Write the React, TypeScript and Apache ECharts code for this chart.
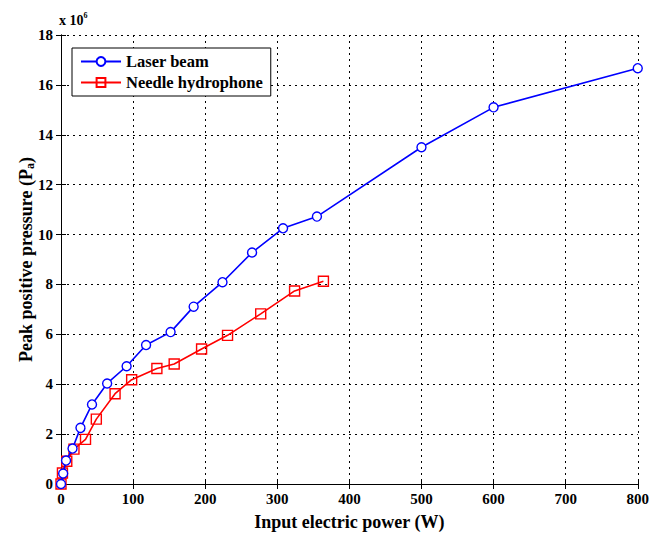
import React, { useEffect, useRef } from "react";
import * as echarts from "echarts";

// Input electric power (W) and peak positive pressure (x 10^6 Pa)
const powerLaser = [0, 3, 7, 16, 27, 43, 64, 91, 118, 152, 184, 224, 265, 308, 355, 500, 600, 800];
const pressureLaser = [0, 0.42, 0.94, 1.42, 2.25, 3.19, 4.03, 4.72, 5.57, 6.09, 7.11, 8.09, 9.28, 10.25, 10.72, 13.5, 15.1, 16.67];
const powerNeedle = [0, 2, 8, 18, 34, 49, 75, 98, 133, 157, 195, 231, 277, 324, 364];
const pressureNeedle = [0, 0.44, 0.91, 1.4, 1.79, 2.6, 3.62, 4.18, 4.63, 4.81, 5.41, 5.96, 6.82, 7.74, 8.13];
const seriesNames = ["Laser beam", "Needle hydrophone"];

const FONT = "'Liberation Serif', 'Times New Roman', serif";

export default function App() {
  const ref = useRef<HTMLDivElement>(null);
  useEffect(() => {
    if (!ref.current) return;
    const chart = echarts.init(ref.current, undefined, { renderer: "svg" });
    const pair = (xs: number[], ys: number[]) => xs.map((x, i) => [x, ys[i]]);
    const gridLine = { show: true, lineStyle: { color: "#000", type: [2, 4] as any, width: 1 } };
    const axisLine = { show: true, lineStyle: { color: "#000", width: 1 } };
    const label = { color: "#000", fontFamily: FONT, fontWeight: "bold" as const, fontSize: 15 };
    chart.setOption({
      animation: false,
      backgroundColor: "#fff",
      grid: { left: 61, right: 11, top: 35, bottom: 42, containLabel: false },
      legend: {
        left: 72,
        top: 48,
        orient: "vertical",
        backgroundColor: "#fff",
        borderColor: "#000",
        borderWidth: 1,
        borderRadius: 0,
        padding: [5, 8, 5, 8],
        itemGap: 4,
        itemWidth: 40,
        itemHeight: 11,
        data: seriesNames,
        textStyle: { color: "#000", fontFamily: FONT, fontWeight: "bold", fontSize: 16.5 },
      },
      graphic: [
        {
          type: "text",
          left: 59,
          top: 11,
          style: {
            text: "{a|x 10}{s|6}",
            rich: {
              a: { fontFamily: FONT, fontWeight: "bold", fontSize: 14, fill: "#000" },
              s: { fontFamily: FONT, fontWeight: "bold", fontSize: 8, fill: "#000", padding: [0, 0, 10, 0] },
            },
          },
        },
      ],
      xAxis: [
        {
          type: "value",
          min: 0,
          max: 800,
          interval: 100,
          name: "Input electric power (W)",
          nameLocation: "middle",
          nameGap: 29,
          nameMoveOverlap: false,
          nameTextStyle: { color: "#000", fontFamily: FONT, fontWeight: "bold", fontSize: 18 },
          axisLine,
          axisTick: { show: true, inside: true, length: 5, lineStyle: { color: "#000" } },
          axisLabel: { ...label, margin: 7 },
          splitLine: gridLine,
        },
        {
          type: "value",
          position: "top",
          min: 0,
          max: 800,
          interval: 100,
          axisLine,
          axisTick: { show: true, inside: true, length: 5, lineStyle: { color: "#000" } },
          axisLabel: { show: false },
          splitLine: { show: false },
        },
      ],
      yAxis: [
        {
          type: "value",
          min: 0,
          max: 18,
          interval: 2,
          name: "{b|Peak positive pressure (P}{s|a}{b|)}",
          nameLocation: "middle",
          nameGap: 25,
          nameMoveOverlap: false,
          nameTextStyle: {
            rich: {
              b: { color: "#000", fontFamily: FONT, fontWeight: "bold", fontSize: 18 },
              s: { color: "#000", fontFamily: FONT, fontWeight: "bold", fontSize: 12, padding: [8, 0, 0, 0] },
            },
          },
          axisLine,
          axisTick: { show: true, inside: true, length: 5, lineStyle: { color: "#000" } },
          axisLabel: { ...label, margin: 8 },
          splitLine: gridLine,
        },
        {
          type: "value",
          position: "right",
          min: 0,
          max: 18,
          interval: 2,
          axisLine,
          axisTick: { show: true, inside: true, length: 5, lineStyle: { color: "#000" } },
          axisLabel: { show: false },
          splitLine: { show: false },
        },
      ],
      series: [
        {
          name: seriesNames[0],
          type: "line",
          data: pair(powerLaser, pressureLaser),
          symbol: "circle",
          symbolSize: 9,
          showAllSymbol: true,
          lineStyle: { color: "#0000ff", width: 1.6 },
          itemStyle: { color: "#fff", borderColor: "#0000ff", borderWidth: 1.4 },
          z: 3,
        },
        {
          name: seriesNames[1],
          type: "line",
          data: pair(powerNeedle, pressureNeedle),
          symbol: "rect",
          symbolSize: 10,
          showAllSymbol: true,
          lineStyle: { color: "#ff0000", width: 1.6 },
          itemStyle: { color: "rgba(255,255,255,0)", borderColor: "#ff0000", borderWidth: 1.4 },
          z: 2,
        },
      ],
    });
    return () => chart.dispose();
  }, []);
  return (
    <div
      ref={ref}
      style={{ position: "fixed", left: 0, top: 0, width: 652, height: 536, background: "#fff" }}
    />
  );
}
